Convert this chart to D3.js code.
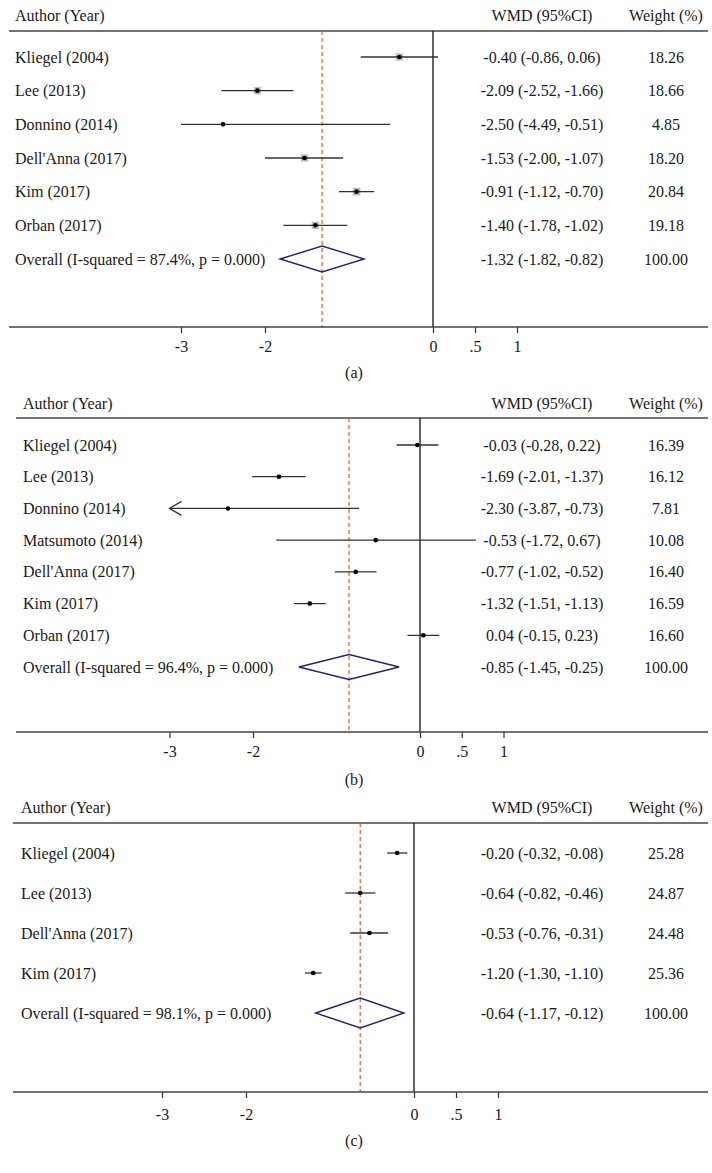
<!DOCTYPE html>
<html>
<head>
<meta charset="utf-8">
<script src="https://cdn.jsdelivr.net/npm/d3@7"></script>
<style>
  html, body { margin: 0; padding: 0; background: #fff; }
  svg { display: block; }
  text { font-family: "Liberation Serif", "DejaVu Serif", serif; font-size: 16px; fill: #1a1a1a; }
</style>
</head>
<body>
<div id="chart"></div>
<script>
// ---- data: panel (a) ----
const studiesA = ["Kliegel (2004)", "Lee (2013)", "Donnino (2014)", "Dell'Anna (2017)", "Kim (2017)", "Orban (2017)"];
const estA = [-0.40, -2.09, -2.50, -1.53, -0.91, -1.40];
const lowA = [-0.86, -2.52, -4.49, -2.00, -1.12, -1.78];
const highA = [0.06, -1.66, -0.51, -1.07, -0.70, -1.02];
const weightA = [18.26, 18.66, 4.85, 18.20, 20.84, 19.18];
const overallA = [-1.32, -1.82, -0.82];
const isqA = "87.4%";

// ---- data: panel (b) ----
const studiesB = ["Kliegel (2004)", "Lee (2013)", "Donnino (2014)", "Matsumoto (2014)", "Dell'Anna (2017)", "Kim (2017)", "Orban (2017)"];
const estB = [-0.03, -1.69, -2.30, -0.53, -0.77, -1.32, 0.04];
const lowB = [-0.28, -2.01, -3.87, -1.72, -1.02, -1.51, -0.15];
const highB = [0.22, -1.37, -0.73, 0.67, -0.52, -1.13, 0.23];
const weightB = [16.39, 16.12, 7.81, 10.08, 16.40, 16.59, 16.60];
const overallB = [-0.85, -1.45, -0.25];
const isqB = "96.4%";

// ---- data: panel (c) ----
const studiesC = ["Kliegel (2004)", "Lee (2013)", "Dell'Anna (2017)", "Kim (2017)"];
const estC = [-0.20, -0.64, -0.53, -1.20];
const lowC = [-0.32, -0.82, -0.76, -1.30];
const highC = [-0.08, -0.46, -0.31, -1.10];
const weightC = [25.28, 24.87, 24.48, 25.36];
const overallC = [-0.64, -1.17, -0.12];
const isqC = "98.1%";

const tickValues = [-3, -2, 0, 0.5, 1];
const tickLabels = ["-3", "-2", "0", ".5", "1"];
const xMin = -3; // lower display limit, CIs beyond it are clipped

const W = 712, H = 1173;
const svg = d3.select("#chart").append("svg").attr("width", W).attr("height", H);
const f2 = d3.format(".2f");
const fmt = v => f2(v).replace("−", "-");

const panels = [
  { label: "(a)", names: studiesA, est: estA, lo: lowA, hi: highA, w: weightA, ov: overallA, isq: isqA,
    headY: 15, lineY: 31, row0: 57, rowOv: 259, axisY: 327, tickY: 346, capY: 372,
    x0: 433, unit: 84, left: 15, lineX0: 9, box: 1.7, dh: 13, arrow: false },
  { label: "(b)", names: studiesB, est: estB, lo: lowB, hi: highB, w: weightB, ov: overallB, isq: isqB,
    headY: 403, lineY: 418, row0: 445, rowOv: 667, axisY: 732, tickY: 751, capY: 779,
    x0: 420, unit: 83.5, left: 23, lineX0: 16, box: 1.0, dh: 12.5, arrow: true },
  { label: "(c)", names: studiesC, est: estC, lo: lowC, hi: highC, w: weightC, ov: overallC, isq: isqC,
    headY: 807, lineY: 823, row0: 853, rowOv: 1013, axisY: 1092, tickY: 1114, capY: 1140,
    x0: 414, unit: 84, left: 21, lineX0: 13, box: 0.8, dh: 15, arrow: false }
];

const wmdX = 542, wtX = 666, rightX = 708;

panels.forEach(p => {
  const g = svg.append("g");
  const n = p.names.length;
  const x = d3.scaleLinear().domain([0, 1]).range([p.x0, p.x0 + p.unit]);
  const y = d3.scaleLinear().domain([0, n]).range([p.row0, p.rowOv]);

  // header
  g.append("text").attr("x", p.left).attr("y", p.headY).attr("dominant-baseline", "central").text("Author (Year)");
  g.append("text").attr("x", wmdX).attr("y", p.headY).attr("text-anchor", "middle").attr("dominant-baseline", "central").text("WMD (95%CI)");
  g.append("text").attr("x", wtX).attr("y", p.headY).attr("text-anchor", "middle").attr("dominant-baseline", "central").text("Weight (%)");
  g.append("line").attr("x1", p.lineX0).attr("x2", rightX).attr("y1", p.lineY).attr("y2", p.lineY)
    .attr("stroke", "#444").attr("stroke-width", 1.5);

  // zero line
  g.append("line").attr("x1", x(0)).attr("x2", x(0)).attr("y1", p.lineY).attr("y2", p.axisY)
    .attr("stroke", "#111").attr("stroke-width", 1.3);
  // overall dashed line
  g.append("line").attr("x1", x(p.ov[0])).attr("x2", x(p.ov[0])).attr("y1", p.lineY).attr("y2", p.axisY)
    .attr("stroke", "#e46a35").attr("stroke-width", 1.3).attr("stroke-dasharray", "4,3");

  // axis
  const axis = d3.axisBottom(x).tickValues(tickValues).tickSize(6)
    .tickFormat((d, i) => tickLabels[i]);
  const ag = g.append("g").attr("transform", `translate(0,${p.axisY})`).call(axis);
  ag.select(".domain").remove();
  ag.selectAll(".tick line").attr("stroke", "#333").attr("stroke-width", 1.2);
  ag.selectAll(".tick text").attr("y", p.tickY - p.axisY).attr("dy", null)
    .attr("dominant-baseline", "central")
    .style("font-family", '"Liberation Serif", serif').style("font-size", "16px").attr("fill", "#1a1a1a");
  g.append("line").attr("x1", p.lineX0).attr("x2", rightX).attr("y1", p.axisY).attr("y2", p.axisY)
    .attr("stroke", "#444").attr("stroke-width", 1.5);

  // studies
  p.names.forEach((name, i) => {
    const yy = y(i);
    g.append("text").attr("x", p.left).attr("y", yy).attr("dominant-baseline", "central").text(name);
    g.append("text").attr("x", wmdX).attr("y", yy).attr("text-anchor", "middle").attr("dominant-baseline", "central")
      .text(`${fmt(p.est[i])} (${fmt(p.lo[i])}, ${fmt(p.hi[i])})`);
    g.append("text").attr("x", wtX).attr("y", yy).attr("text-anchor", "middle").attr("dominant-baseline", "central")
      .text(f2(p.w[i]));

    const lo = Math.max(p.lo[i], xMin);
    const s = p.box * Math.sqrt(p.w[i]);
    g.append("rect").attr("x", x(p.est[i]) - s / 2).attr("y", yy - s / 2).attr("width", s).attr("height", s)
      .attr("fill", "#bdbdbd");
    g.append("line").attr("x1", x(lo)).attr("x2", x(p.hi[i])).attr("y1", yy).attr("y2", yy)
      .attr("stroke", "#333").attr("stroke-width", 1.3);
    if (p.arrow && p.lo[i] < xMin) {
      const ax = x(xMin);
      g.append("path").attr("d", `M${ax + 12},${yy - 7} L${ax},${yy} L${ax + 12},${yy + 7}`)
        .attr("fill", "none").attr("stroke", "#333").attr("stroke-width", 1.3);
    }
    g.append("circle").attr("cx", x(p.est[i])).attr("cy", yy).attr("r", 2.3).attr("fill", "#000");
  });

  // overall
  const yo = y(n);
  g.append("text").attr("x", p.left).attr("y", yo).attr("dominant-baseline", "central")
    .text(`Overall (I-squared = ${p.isq}, p = 0.000)`);
  g.append("text").attr("x", wmdX).attr("y", yo).attr("text-anchor", "middle").attr("dominant-baseline", "central")
    .text(`${fmt(p.ov[0])} (${fmt(p.ov[1])}, ${fmt(p.ov[2])})`);
  g.append("text").attr("x", wtX).attr("y", yo).attr("text-anchor", "middle").attr("dominant-baseline", "central")
    .text("100.00");
  g.append("path")
    .attr("d", `M${x(p.ov[1])},${yo} L${x(p.ov[0])},${yo - p.dh} L${x(p.ov[2])},${yo} L${x(p.ov[0])},${yo + p.dh} Z`)
    .attr("fill", "none").attr("stroke", "#23237a").attr("stroke-width", 1.4);

  // caption
  g.append("text").attr("x", 354).attr("y", p.capY).attr("text-anchor", "middle").attr("dominant-baseline", "central")
    .text(p.label);
});
</script>
</body>
</html>
